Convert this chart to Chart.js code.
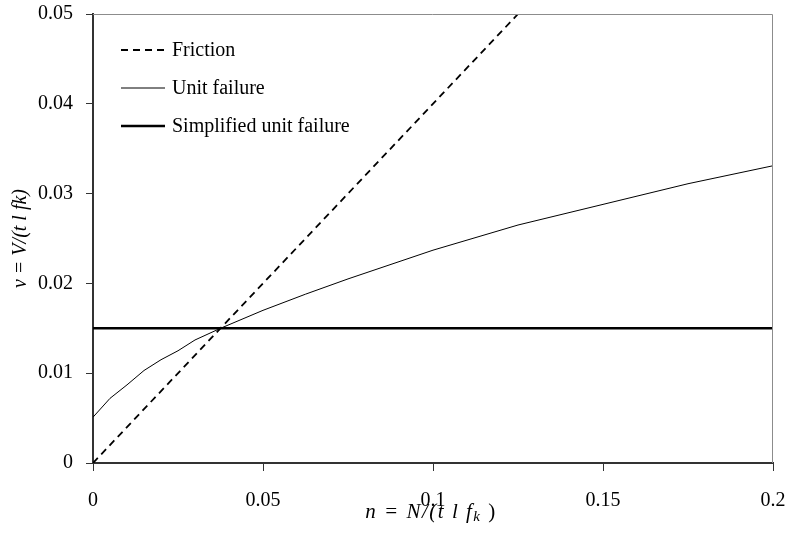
<!DOCTYPE html>
<html>
<head>
<meta charset="utf-8">
<script src="https://cdn.jsdelivr.net/npm/chart.js@4"></script>
<style>
    html, body { margin: 0; padding: 0; background: #fff; }
    #wrap { width: 790px; height: 534px; }
</style>
</head>
<body>
<div id="wrap"><canvas id="chart"></canvas></div>
<script>
// Data
const frictionX = [0, 0.125];
const frictionY = [0, 0.05];

const unitX = [0, 0.005, 0.01, 0.015, 0.02, 0.025, 0.03, 0.0375, 0.05, 0.0625, 0.075, 0.1, 0.125, 0.15, 0.175, 0.2];
const unitY = [0.0051, 0.0072, 0.0087, 0.0103, 0.0115, 0.0125, 0.0137, 0.0150, 0.0170, 0.0188, 0.0205, 0.0237, 0.0265, 0.0288, 0.0311, 0.0331];

const simpleX = [0, 0.2];
const simpleY = [0.015, 0.015];

const xTicks = [0, 0.05, 0.1, 0.15, 0.2];
const yTicks = [0, 0.01, 0.02, 0.03, 0.04, 0.05];

const FONT = '"Liberation Serif", "Times New Roman", serif';

function pts(xs, ys) {
    return xs.map((x, i) => ({ x: x, y: ys[i] }));
}

// Frame, legend and axis titles
const extras = {
    id: 'extras',
    afterDraw(chart) {
        const ctx = chart.ctx;
        const a = chart.chartArea;
        ctx.save();

        // grey top and right frame
        ctx.strokeStyle = '#8c8c8c';
        ctx.lineWidth = 1;
        ctx.beginPath();
        ctx.moveTo(a.left, a.top + 0.5);
        ctx.lineTo(a.right - 0.5, a.top + 0.5);
        ctx.lineTo(a.right - 0.5, a.bottom);
        ctx.stroke();

        // legend inside the plot
        ctx.font = '20px ' + FONT;
        ctx.fillStyle = '#000';
        ctx.textBaseline = 'middle';
        chart.data.datasets.forEach((ds, i) => {
            const y = a.top + 36 + i * 38;
            const x0 = a.left + 28;
            ctx.strokeStyle = '#000';
            ctx.lineWidth = ds.borderWidth;
            ctx.setLineDash(ds.borderDash || []);
            ctx.beginPath();
            ctx.moveTo(x0, y);
            ctx.lineTo(x0 + 44, y);
            ctx.stroke();
            ctx.setLineDash([]);
            ctx.fillText(ds.label, x0 + 51, y + 1);
        });

        // x axis title with subscript k
        ctx.textBaseline = 'alphabetic';
        ctx.letterSpacing = '1.5px';
        const p1 = 'n = N/(t l f';
        const p2 = 'k';
        const p3 = ' )';
        ctx.font = 'italic 21px ' + FONT;
        const w1 = ctx.measureText(p1).width;
        ctx.font = 'italic 15px ' + FONT;
        const w2 = ctx.measureText(p2).width;
        ctx.font = '21px ' + FONT;
        const w3 = ctx.measureText(p3).width;
        let tx = 431 - (w1 + w2 + w3) / 2;
        const ty = 518;
        ctx.textAlign = 'left';
        ctx.font = 'italic 21px ' + FONT;
        ctx.fillText(p1, tx, ty);
        tx += w1;
        ctx.font = 'italic 15px ' + FONT;
        ctx.fillText(p2, tx, ty + 3);
        tx += w2;
        ctx.font = '21px ' + FONT;
        ctx.fillText(p3, tx, ty);
        ctx.letterSpacing = '0px';

        // y axis title, rotated
        ctx.translate(26, (a.top + a.bottom) / 2);
        ctx.rotate(-Math.PI / 2);
        ctx.font = 'italic 20px ' + FONT;
        ctx.textAlign = 'center';
        ctx.fillText('v = V/(t l fk)', 0, 0);
        ctx.restore();
    }
};

new Chart(document.getElementById('chart'), {
    type: 'scatter',
    data: {
        datasets: [
            {
                label: 'Friction',
                data: pts(frictionX, frictionY),
                showLine: true,
                borderColor: '#000',
                borderWidth: 1.8,
                borderDash: [7, 5],
                pointRadius: 0
            },
            {
                label: 'Unit failure',
                data: pts(unitX, unitY),
                showLine: true,
                borderColor: '#000',
                borderWidth: 1,
                pointRadius: 0
            },
            {
                label: 'Simplified unit failure',
                data: pts(simpleX, simpleY),
                showLine: true,
                borderColor: '#000',
                borderWidth: 2.5,
                pointRadius: 0
            }
        ]
    },
    options: {
        responsive: true,
        maintainAspectRatio: false,
        animation: false,
        events: [],
        layout: { padding: { left: 0, right: 17, top: 14, bottom: 0 } },
        plugins: {
            legend: { display: false },
            tooltip: { enabled: false }
        },
        scales: {
            x: {
                type: 'linear',
                min: 0,
                max: 0.2,
                afterBuildTicks: s => { s.ticks = xTicks.map(v => ({ value: v })); },
                afterFit: s => { s.height = 71; s.paddingLeft = 0; s.paddingRight = 0; },
                ticks: {
                    color: '#000',
                    font: { family: FONT, size: 20 },
                    padding: 18,
                    maxRotation: 0,
                    callback: v => String(v)
                },
                grid: { drawOnChartArea: false, tickLength: 8, color: '#333', lineWidth: 1 },
                border: { color: '#333', width: 2 }
            },
            y: {
                type: 'linear',
                min: 0,
                max: 0.05,
                afterBuildTicks: s => { s.ticks = yTicks.map(v => ({ value: v })); },
                afterFit: s => { s.width = 93; s.paddingTop = 0; s.paddingBottom = 0; },
                ticks: {
                    color: '#000',
                    font: { family: FONT, size: 20 },
                    padding: 13,
                    callback: v => String(v)
                },
                grid: { drawOnChartArea: false, tickLength: 7, color: '#333', lineWidth: 1 },
                border: { color: '#333', width: 2 }
            }
        }
    },
    plugins: [extras]
});
</script>
</body>
</html>
